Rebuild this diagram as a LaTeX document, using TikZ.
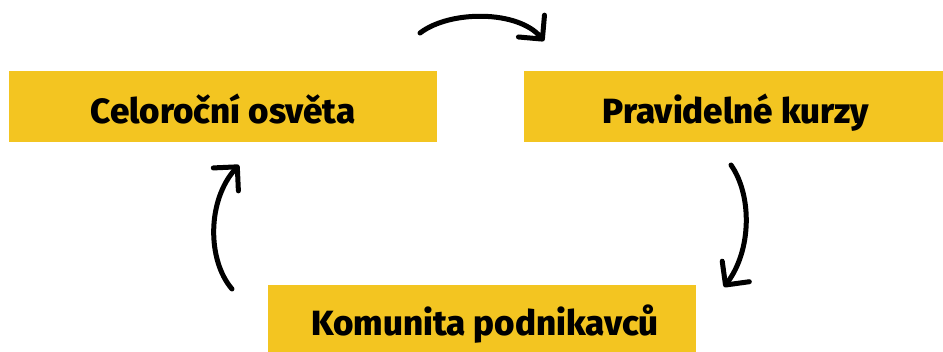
\documentclass[tikz,border=0pt]{standalone}
\usepackage{fontspec}
\setmainfont{Fira Sans}[BoldFont={* ExtraBold}]
\usetikzlibrary{arrows.meta}
\definecolor{boxyellow}{RGB}{243,197,33}
\tikzset{
  box/.style={fill=boxyellow, draw=none, inner sep=0pt, rectangle},
  lbl/.style={font=\fontsize{35bp}{42bp}\selectfont\bfseries, text=black, inner sep=0pt, anchor=base},
  cyc/.style={line width=5bp, draw=black, line cap=round,
    -{Straight Barb[length=17bp, width=34bp, line width=5bp, line cap=round, line join=round]}}
}
\begin{document}
\begin{tikzpicture}[x=1bp, y=-1bp]
\clip (0,0) rectangle (943,351);
\fill[white] (0,0) rectangle (943,351);
\node[box, minimum width=428bp, minimum height=71bp] (b1) at (223,106.5) {};
\node[box, minimum width=419bp, minimum height=71bp] (b2) at (733.5,106.5) {};
\node[box, minimum width=428bp, minimum height=80bp] (b3) at (482,325) {};
\node[lbl] (t1) at (223,123) {Celoroční osvěta};
\node[lbl] (t2) at (736,123) {Pravidelné kurzy};
\node[lbl] (t3) at (485,335) {Komunita podnikavců};
\coordinate (a1s) at (420,33);
\coordinate (a1e) at (544,41);
\coordinate (a2s) at (731,165);
\coordinate (a2e) at (724,287);
\coordinate (a3s) at (232,289);
\coordinate (a3e) at (239,165);
\draw[cyc] (a1s) .. controls (450,10) and (518,10) .. (a1e);
\draw[cyc] (a2s) .. controls (752,195) and (752,250) .. (a2e);
\draw[cyc] (a3s) .. controls (207,260) and (207,200) .. (a3e);
\end{tikzpicture}
\end{document}
